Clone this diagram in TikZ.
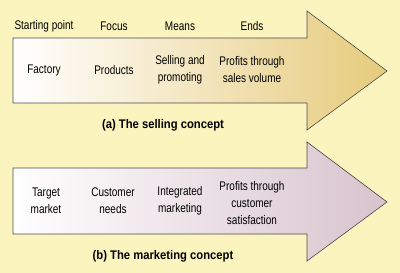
\documentclass[tikz,border=0pt]{standalone}
\usepackage{fontspec}
\setmainfont[FakeStretch=0.8]{Liberation Sans}
\newfontfamily\capfont[FakeStretch=0.9]{Liberation Sans}
\definecolor{bgyellow}{HTML}{FBF4BE}
\definecolor{tanend}{HTML}{E6CB7C}
\definecolor{mauveend}{HTML}{D8C3CD}
\definecolor{edge}{HTML}{4A4A4A}
\tikzset{
  lbl/.style={font=\fontsize{12.5}{17}\selectfont, text=black, align=center, inner sep=0pt},
  captext/.style={font=\capfont\fontsize{12.5}{15}\selectfont\bfseries, text=black, inner sep=0pt},
  arrowedge/.style={draw=edge, line width=0.6pt, line join=miter}
}
\begin{document}
\begin{tikzpicture}[x=1pt,y=-1pt]
\useasboundingbox (0,0) rectangle (400,273);
\fill[bgyellow] (0,0) rectangle (400,273);
% arrow (a)
\shade[left color=white, right color=tanend]
  (13,38) -- (307,38) -- (307,11) -- (387,71) -- (307,130) -- (307,103) -- (13,103) -- cycle;
\draw[arrowedge]
  (13,38) -- (307,38) -- (307,11) -- (387,71) -- (307,130) -- (307,103) -- (13,103) -- cycle;
% arrow (b)
\shade[left color=white, right color=mauveend]
  (13,168) -- (307,168) -- (307,142) -- (387,202) -- (307,261) -- (307,234) -- (13,234) -- cycle;
\draw[arrowedge]
  (13,168) -- (307,168) -- (307,142) -- (387,202) -- (307,261) -- (307,234) -- (13,234) -- cycle;
% headings
\node[lbl] (hstart) at (44,26) {Starting point};
\node[lbl] (hfocus) at (114,26) {Focus};
\node[lbl] (hmeans) at (180,26) {Means};
\node[lbl] (hends) at (252,26) {Ends};
% selling concept
\node[lbl] (factory) at (44,70) {Factory};
\node[lbl] (products) at (114,70) {Products};
\node[lbl] (selling) at (180,70) {Selling and\\promoting};
\node[lbl] (profitsa) at (252,70) {Profits through\\sales volume};
\node[captext] (capa) at (163,125) {(a) The selling concept};
% marketing concept
\node[lbl] (target) at (46,201) {Target\\market};
\node[lbl] (needs) at (113,201) {Customer\\needs};
\node[lbl] (integrated) at (180,201) {Integrated\\marketing};
\node[lbl] (profitsb) at (252,203) {Profits through\\customer\\satisfaction};
\node[captext] (capb) at (163,256) {(b) The marketing concept};
\end{tikzpicture}
\end{document}
